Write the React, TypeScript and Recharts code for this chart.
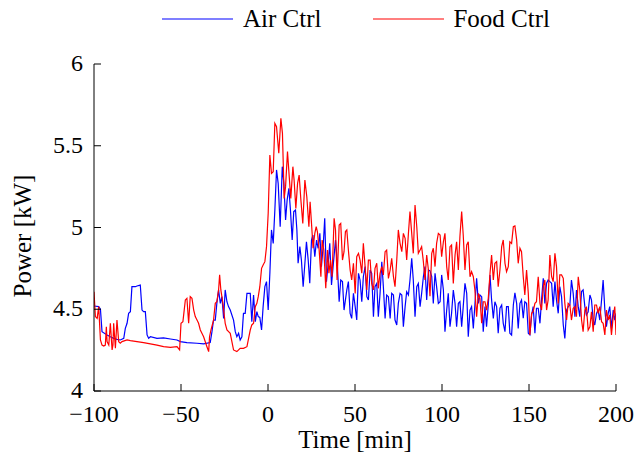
import React from 'react';
import { LineChart, Line, XAxis, YAxis } from 'recharts';

const FONT = '"Liberation Serif", "Times New Roman", serif';
const FS = 24;

const xTicks = [-100, -50, 0, 50, 100, 150, 200];
const yTicks = [4, 4.5, 5, 5.5, 6];
const seriesNames = ['Air Ctrl', 'Food Ctrl'];

const airTime = [
  -100, -97.3, -96.3, -95.4, -92.5, -90.6, -88.7, -86.8, -84.9, -82.9, -82.0, -81.0, -80.1, -79.1, -78.2, -76.2, -75.3, -73.4, -72.4, -71.5,
  -70.5, -69.5, -68.6, -67.6, -63.8, -60.0, -56.1, -52.3, -50.4, -46.6, -40.8, -37.0, -33.2, -32.2, -31.3, -30.3, -29.4, -28.4, -27.4, -26.5,
  -25.5, -24.6, -23.6, -22.7, -21.7, -19.8, -18.8, -17.9, -16.9, -16.0, -15.0, -14.1, -13.1, -12.1, -10.2, -9.3, -8.3, -7.3, -6.4,
  -5.6, -4.7, -3.7, -2.8, -1.8, -0.85, 0.11, 1.07, 2.0, 3.0, 3.94, 4.9, 5.85, 7.0, 8.2, 9.1, 10.1, 11.0, 12.0, 12.9, 13.9, 14.8, 15.8, 16.6,
  17.3, 18.3, 19.2, 20.2, 21.2, 22.1, 23.1, 24.0, 25.0, 25.8, 26.9, 27.9, 28.8, 29.8, 30.7, 31.7, 32.6, 33.6, 34.6, 35.5, 36.5, 37.4, 38.8,
  39.7, 40.9, 41.8, 42.8, 43.7,
  45.3, 46.2, 47.2, 48.1, 49.1, 50.1, 51.0, 52.0, 52.9, 53.9, 54.8, 55.8, 56.8, 57.7, 58.7, 59.6, 60.6, 61.5, 62.5, 63.4, 64.4, 65.4, 66.3,
  67.3, 68.2, 69.2, 70.2, 71.1, 72.1, 73.0, 74.0, 74.9, 75.9, 76.9, 77.8, 78.8, 79.7, 80.7, 81.6, 82.6, 83.5, 84.5, 85.5, 86.4, 87.4, 88.3,
  89.3, 90.2, 91.2, 92.2,
  93.1, 94.1, 95.0, 96.0, 96.9, 97.9, 98.9, 99.8, 100.8, 101.7, 102.7, 103.6, 104.6, 105.5, 106.5, 107.5, 108.4, 109.4, 110.3, 111.3, 112.2,
  113.2, 114.2, 115.1, 116.1, 117.0, 118.0, 118.9, 119.9, 120.9, 121.8, 122.8, 123.7, 124.7, 125.6, 126.6, 127.6, 128.5, 129.5, 130.4, 131.4,
  132.3, 133.3, 134.3, 135.2, 136.2, 137.1, 138.1, 139.0, 140.0, 141.0,
  141.9, 142.9, 143.8, 144.8, 145.7, 146.7, 147.6, 148.6, 149.6, 150.5, 151.5, 152.4, 153.4, 154.3, 155.3, 156.3, 157.2, 158.2, 159.1, 160.1,
  161.0, 162.0, 163.0, 163.9, 164.9, 165.8, 166.8, 167.7, 168.7, 169.7, 170.6, 171.6, 172.5, 173.5, 174.4, 175.4, 176.4, 177.3, 178.3, 179.2,
  180.2, 181.1, 182.1, 183.0, 184.0, 185.0, 185.9, 186.9, 187.8, 188.8, 189.7, 190.7, 191.7, 192.6, 193.6, 194.5, 195.5, 196.4, 197.4, 198.4,
  199.3, 200,
];
const airPower = [
  4.52, 4.516, 4.5, 4.363, 4.343, 4.332, 4.322, 4.316, 4.312, 4.322, 4.383, 4.414, 4.475, 4.485, 4.638, 4.638, 4.642, 4.648, 4.495, 4.485,
  4.485, 4.343, 4.322, 4.332, 4.322, 4.325, 4.318, 4.312, 4.302, 4.296, 4.292, 4.288, 4.296, 4.363, 4.434, 4.434, 4.536, 4.618, 4.536, 4.577,
  4.444, 4.618, 4.546, 4.516, 4.495, 4.434, 4.363, 4.332, 4.353, 4.312, 4.332, 4.475, 4.475, 4.597, 4.597, 4.424, 4.587, 4.424, 4.485,
  4.455, 4.45, 4.373, 4.516, 4.638, 4.669, 4.495, 4.72, 4.985, 4.903, 5.107, 5.352, 5.27, 5.005, 5.372, 5.27, 5.046, 5.168, 5.239, 5.107,
  4.923, 5.097, 5.107, 4.985, 4.781, 4.883, 4.801, 4.638, 4.781, 4.913, 4.801, 4.659, 4.923, 4.954, 4.822, 4.923, 4.873, 4.964, 4.76, 4.883,
  5.056, 4.669, 4.781, 4.903, 4.648, 4.76, 4.923, 4.801, 4.546, 4.679, 4.669, 4.495,
  4.618, 4.669, 4.475, 4.444, 4.597, 4.516, 4.434, 4.72, 4.679, 4.546, 4.699, 4.761, 4.577, 4.557, 4.74, 4.72, 4.455, 4.638, 4.658, 4.455,
  4.597, 4.791, 4.638, 4.444, 4.587, 4.577, 4.444, 4.597, 4.587, 4.434, 4.404, 4.536, 4.597, 4.587, 4.393, 4.516, 4.607, 4.587, 4.679, 4.811,
  4.679, 4.455, 4.638, 4.658, 4.516, 4.597, 4.699, 4.761, 4.557, 4.74,
  4.735, 4.699, 4.536, 4.72, 4.638, 4.536, 4.546, 4.71, 4.618, 4.363, 4.495, 4.597, 4.393, 4.475, 4.618, 4.536, 4.393, 4.536, 4.546, 4.393,
  4.516, 4.658, 4.597, 4.332, 4.495, 4.516, 4.383, 4.526, 4.689, 4.536, 4.587, 4.577, 4.363, 4.516, 4.393, 4.526, 4.71, 4.557, 4.444, 4.546,
  4.516, 4.353, 4.506, 4.526, 4.414, 4.363, 4.516, 4.516, 4.353, 4.342, 4.526,
  4.6, 4.536, 4.383, 4.536, 4.557, 4.445, 4.546, 4.536, 4.353, 4.343, 4.465, 4.516, 4.353, 4.506, 4.506, 4.414, 4.557, 4.689, 4.536, 4.659,
  4.679, 4.669, 4.659, 4.516, 4.669, 4.557, 4.475, 4.638, 4.577, 4.404, 4.322, 4.495, 4.516, 4.526, 4.679, 4.597, 4.455, 4.618, 4.516, 4.455,
  4.608, 4.618, 4.516, 4.465, 4.485, 4.587, 4.557, 4.434, 4.404, 4.475, 4.495, 4.434, 4.557, 4.679, 4.495, 4.393, 4.475, 4.516, 4.383, 4.495,
  4.434, 4.475,
];

const foodTime = [
  -100, -99.2, -98.2, -97.3, -96.3, -95.4, -94.4, -93.5, -92.9, -92.5, -91.5, -90.6, -89.6, -89.1, -88.7, -87.7, -86.8, -85.8, -84.9, -83.9,
  -81.0, -79.1, -75.3, -71.5, -67.6, -63.8, -60.0, -56.1, -52.3, -50.8, -50.0, -48.9, -47.5, -46.6, -45.6, -44.7, -43.7, -42.7, -41.8, -40.8,
  -39.9, -38.9, -37.0, -35.1, -34.1, -33.6, -32.8, -31.3, -30.3, -29.4, -28.4, -27.8, -27.1, -25.9, -24.6, -23.6, -21.7, -19.8, -17.9, -16.0,
  -14.1, -12.1, -10.2, -9.3, -8.3, -7.3, -6.4,
  -5.6, -4.7, -3.7, -2.8, -1.8, -0.85, 0.11, 1.07, 2.0, 3.0, 3.94, 4.9, 6.2, 7.4, 8.3, 9.3, 10.1, 11.2, 12.2, 13.1, 14.3, 15.0, 16.0, 17.0,
  17.9, 18.9, 20.0, 21.2, 22.3, 23.5, 24.2, 25.0, 25.9, 26.9, 27.7, 28.4, 29.4, 30.4, 31.1, 32.1, 33.2, 34.2, 35.0, 35.9, 36.8, 38.0, 38.8,
  39.7, 40.9, 41.8, 42.8, 43.7,
  44.5, 45.3, 46.2, 47.2, 48.1, 49.1, 50.1, 51.0, 52.0, 52.9, 53.9, 54.8, 55.8, 56.8, 57.7, 58.7, 59.6, 60.6, 61.5, 62.5, 63.4, 64.4, 65.4,
  66.3, 67.3, 68.2, 69.2, 70.2, 71.1, 72.1, 73.0, 74.0, 74.9, 75.9, 76.9, 77.8, 78.8, 79.7, 80.7, 81.6, 82.6, 83.5, 84.5, 85.5, 86.4, 87.4,
  88.3, 89.3, 90.2, 91.2, 92.2,
  93.1, 94.1, 95.0, 96.0, 96.9, 97.9, 98.9, 99.8, 100.8, 101.7, 102.7, 103.6, 104.6, 105.5, 106.5, 107.5, 108.4, 109.4, 110.3, 111.3, 112.2,
  113.2, 114.2, 115.1, 116.1, 117.0, 118.0, 118.9, 119.9, 120.9, 121.8, 122.8, 123.7, 124.7, 125.6, 126.6, 127.6, 128.5, 129.5, 130.4, 131.4,
  132.3, 133.3, 134.3, 135.2, 136.2, 137.1, 138.1, 139.0, 140.0, 141.0,
  141.9, 142.9, 143.8, 144.8, 145.7, 146.7, 147.6, 148.6, 149.6, 150.5, 151.5, 152.4, 153.4, 154.3, 155.3, 156.3, 157.2, 158.2, 159.1, 160.1,
  161.0, 162.0, 163.0, 163.9, 164.9, 165.8, 166.8, 167.7, 168.7, 169.7, 170.6, 171.6, 172.5, 173.5, 174.4, 175.4, 176.4, 177.3, 178.3, 179.2,
  180.2, 181.1, 182.1, 183.0, 184.0, 185.0, 185.9, 186.9, 187.8, 188.8, 189.7, 190.7, 191.7, 192.6, 193.6, 194.5, 195.5, 196.4, 197.4, 198.4,
  199.3, 200,
];
const foodPower = [
  4.607, 4.455, 4.444, 4.516, 4.312, 4.281, 4.275, 4.281, 4.393, 4.302, 4.281, 4.414, 4.251, 4.281, 4.414, 4.261, 4.434, 4.302, 4.292, 4.302,
  4.312, 4.308, 4.302, 4.296, 4.288, 4.281, 4.271, 4.267, 4.271, 4.251, 4.414, 4.424, 4.557, 4.567, 4.414, 4.577, 4.567, 4.495, 4.455, 4.434,
  4.414, 4.373, 4.332, 4.271, 4.241, 4.332, 4.373, 4.434, 4.536, 4.546, 4.618, 4.71, 4.618, 4.536, 4.414, 4.373, 4.353, 4.251, 4.241, 4.261,
  4.261, 4.271, 4.373, 4.404, 4.414, 4.516, 4.536,
  4.577, 4.638, 4.75, 4.771, 4.791, 4.883, 5.087, 5.443, 5.331, 5.341, 5.637, 5.617, 5.454, 5.668, 5.576, 5.178, 5.25, 5.464, 5.311, 5.178,
  5.372, 5.29, 5.117, 5.27, 5.321, 5.168, 5.025, 5.29, 5.188, 5.005, 5.158, 5.025, 4.873, 4.964, 5.005, 4.974, 4.862, 4.699, 4.923, 4.862,
  4.628, 4.862, 4.72, 4.801, 4.699, 5.056, 4.985, 4.679, 5.015, 5.025, 4.801, 4.852,
  4.975, 4.985, 4.862, 4.74, 4.679, 4.781, 4.597, 4.822, 4.842, 4.801, 4.72, 4.903, 4.761, 4.618, 4.801, 4.801, 4.658, 4.618, 4.75, 4.781,
  4.628, 4.72, 4.761, 4.71, 4.852, 4.862, 4.689, 4.74, 4.811, 4.699, 4.638, 4.801, 4.985, 4.903, 4.852, 4.964, 4.934, 4.801, 4.964, 5.097,
  4.964, 4.842, 5.138, 5.005, 4.842, 4.862, 4.883, 4.791, 4.679, 4.832, 4.74,
  4.58, 4.842, 4.873, 4.761, 4.903, 4.964, 4.954, 4.822, 4.913, 4.964, 4.761, 4.679, 4.883, 4.893, 4.658, 4.832, 4.913, 4.74, 4.944, 5.097,
  4.954, 4.74, 4.893, 4.913, 4.699, 4.73, 4.699, 4.618, 4.455, 4.597, 4.567, 4.414, 4.546, 4.546, 4.495, 4.567, 4.72, 4.832, 4.679, 4.781,
  4.791, 4.638, 4.74, 4.883, 4.924, 4.781, 4.73, 4.761, 4.913, 4.903, 5.005,
  5.01, 4.924, 4.781, 4.873, 4.852, 4.699, 4.587, 4.74, 4.597, 4.343, 4.475, 4.485, 4.536, 4.546, 4.699, 4.536, 4.495, 4.638, 4.679, 4.495,
  4.557, 4.832, 4.699, 4.669, 4.842, 4.761, 4.536, 4.71, 4.71, 4.689, 4.536, 4.434, 4.536, 4.526, 4.434, 4.506, 4.516, 4.455, 4.699, 4.618,
  4.434, 4.363, 4.495, 4.516, 4.373, 4.393, 4.485, 4.363, 4.526, 4.526, 4.475, 4.516, 4.424, 4.414, 4.343, 4.495, 4.434, 4.465, 4.343, 4.455,
  4.516, 4.343,
];

const airData = airTime.map((t, i) => ({ t, p: airPower[i] }));
const foodData = foodTime.map((t, i) => ({ t, p: foodPower[i] }));

const fmt = (v: number) => (v < 0 ? '\u2212' + Math.abs(v) : String(v));

const XTick = (props: any) => {
  const { x, y, payload } = props;
  return (
    <g>
      <line x1={x} y1={y} x2={x} y2={y - 7} stroke="#000" strokeWidth={1} />
      <text x={x} y={y + 31} textAnchor="middle" fontSize={FS} fontFamily={FONT} fill="#000">
        {fmt(payload.value)}
      </text>
    </g>
  );
};

const YTick = (props: any) => {
  const { x, y, payload } = props;
  return (
    <g>
      <line x1={x} y1={y} x2={x + 7} y2={y} stroke="#000" strokeWidth={1} />
      <text x={x - 11} y={y + 7} textAnchor="end" fontSize={FS} fontFamily={FONT} fill="#000">
        {fmt(payload.value)}
      </text>
    </g>
  );
};

const W = 636;
const H = 459;

export default function App() {
  return (
    <div style={{ position: 'absolute', left: 0, top: 0, width: W, height: H, background: '#fff', fontFamily: FONT }}>
      <LineChart width={W} height={H} margin={{ top: 64, right: 20, bottom: 0, left: 0 }}>
        <XAxis
          type="number"
          dataKey="t"
          domain={[-100, 200]}
          ticks={xTicks}
          interval={0}
          height={68}
          allowDataOverflow
          axisLine={{ stroke: '#000', strokeWidth: 1 }}
          tickLine={false}
          tickSize={0}
          tickMargin={0}
          tick={<XTick />}
        />
        <YAxis
          type="number"
          domain={[4, 6]}
          ticks={yTicks}
          interval={0}
          width={94}
          allowDataOverflow
          axisLine={{ stroke: '#000', strokeWidth: 1 }}
          tickLine={false}
          tickSize={0}
          tickMargin={0}
          tick={<YTick />}
        />
        <Line data={airData} dataKey="p" type="linear" stroke="#0000ff" strokeWidth={1.2} dot={false} isAnimationActive={false} />
        <Line data={foodData} dataKey="p" type="linear" stroke="#ff0000" strokeWidth={1.2} dot={false} isAnimationActive={false} />
      </LineChart>

      <div style={{ position: 'absolute', left: 162, top: 5, display: 'flex', alignItems: 'center', fontSize: 25, color: '#000', whiteSpace: 'nowrap' }}>
        <svg width={71} height={4} style={{ display: 'block' }}>
          <line x1={0} y1={2} x2={71} y2={2} stroke="#0000ff" strokeWidth={1.2} />
        </svg>
        <span style={{ marginLeft: 10 }}>{seriesNames[0]}</span>
        <svg width={71} height={4} style={{ display: 'block', marginLeft: 52 }}>
          <line x1={0} y1={2} x2={71} y2={2} stroke="#ff0000" strokeWidth={1.2} />
        </svg>
        <span style={{ marginLeft: 9 }}>{seriesNames[1]}</span>
      </div>

      <div style={{ position: 'absolute', left: 355, top: 452, transform: 'translate(-50%, -100%)', fontSize: 25, whiteSpace: 'nowrap', lineHeight: 1 }}>
        Time [min]
      </div>
      <div style={{ position: 'absolute', left: 22, top: 236, transform: 'translate(-50%, -50%) rotate(-90deg)', fontSize: 25, whiteSpace: 'nowrap', lineHeight: 1 }}>
        Power [kW]
      </div>
    </div>
  );
}
